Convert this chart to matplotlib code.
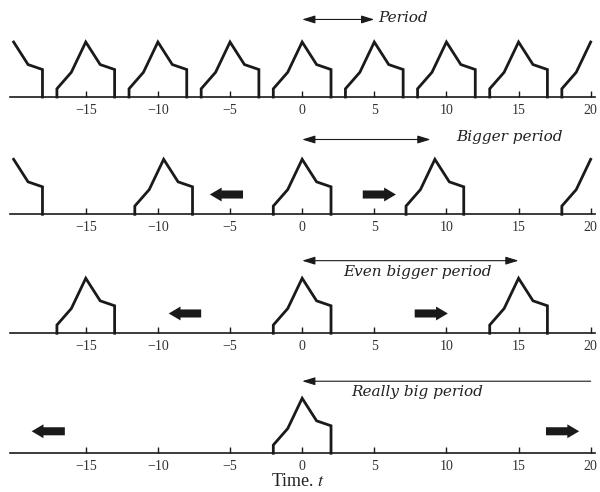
import matplotlib
matplotlib.use("Agg")
import matplotlib.pyplot as plt
import numpy as np

# one pulse, centred on 0
pulse_t = [-2, -2, -1, 0, 1, 2, 2]
pulse_v = [0, 0.15, 0.45, 1.0, 0.59, 0.5, 0]

# pulse centres in each panel
centres = [
    [-20, -15, -10, -5, 0, 5, 10, 15, 20],
    [-20, -9.6, 0, 9.2, 20],
    [-15, 0, 15],
    [0],
]

# period arrows: (start, end, style), labels
period_arrows = [(0, 5, "<|-|>"), (0, 8.9, "<|-|>"), (0, 15, "<|-|>"), (0, 20, "<|-")]
period_labels = ["Period", "Bigger period", "Even bigger period", "Really big period"]
label_x = [5.3, 14.4, 8.0, 8.0]

# fat arrows showing pulses moving out: (tail, tip)
block_arrows = [
    [],
    [(-4.1, -6.4), (4.2, 6.5)],
    [(-7.0, -9.25), (7.8, 10.1)],
    [(-16.45, -18.75), (16.9, 19.2)],
]

xticks = [-15, -10, -5, 0, 5, 10, 15, 20]

plt.rcParams["mathtext.fontset"] = "stix"

fig = plt.figure(figsize=(6, 4.92), dpi=100)
fig.patch.set_facecolor("white")

bottoms = [0.8028, 0.5644, 0.3226, 0.0787]
arrow_y = [1.41, 1.36, 1.32, 1.31]
text_y = [1.43, 1.41, 1.12, 1.11]
text_ha = ["left", "center", "center", "center"]

for i in range(4):
    ax = fig.add_axes([0.0167, bottoms[i], 0.975, 0.1789])
    ax.set_xlim(-20.25, 20.3)
    ax.set_ylim(0, 1.6)

    # pulses, cut at the edges of the window
    for c in centres[i]:
        t = np.array(pulse_t) + c
        v = np.array(pulse_v)
        keep = (t >= -20) & (t <= 20)
        ax.plot(t[keep], v[keep], color="#1a1a1a", lw=2.0,
                solid_joinstyle="miter", clip_on=False)

    # period arrow
    a0, a1, sty = period_arrows[i]
    ax.annotate("", xy=(a1, arrow_y[i]), xytext=(a0, arrow_y[i]),
                arrowprops=dict(arrowstyle=sty + ",head_length=0.65,head_width=0.2",
                                color="#1a1a1a", lw=0.8, mutation_scale=12,
                                shrinkA=0, shrinkB=0),
                annotation_clip=False)
    ax.text(label_x[i], text_y[i], period_labels[i], ha=text_ha[i], va="center",
            fontsize=11, style="italic", family="DejaVu Serif", color="#222222")

    # fat arrows
    for tail, tip in block_arrows[i]:
        ya = 0.36 if i < 3 else 0.4
        ax.annotate("", xy=(tip, ya), xytext=(tail, ya),
                    arrowprops=dict(arrowstyle="simple,head_length=8.5,head_width=10,tail_width=5.8",
                                    color="#1a1a1a", mutation_scale=1,
                                    shrinkA=0, shrinkB=0, lw=0))

    for s in ["top", "left", "right"]:
        ax.spines[s].set_visible(False)
    ax.spines["bottom"].set_linewidth(1.2)
    ax.spines["bottom"].set_color("#1a1a1a")
    ax.set_yticks([])
    ax.set_xticks(xticks)
    ax.set_xticklabels([str(x).replace("-", "\u2212") for x in xticks],
                       family="Liberation Serif", fontsize=10, color="#333333")
    ax.tick_params(axis="x", direction="in", length=4, width=1, pad=5,
                   color="#1a1a1a")
    ax.patch.set_alpha(0)

fig.text(0.497, 0.004, "Time. $t$", ha="center", va="bottom",
         family="Liberation Serif", fontsize=13, color="#222222")

fig.savefig("out.png", dpi=100)
